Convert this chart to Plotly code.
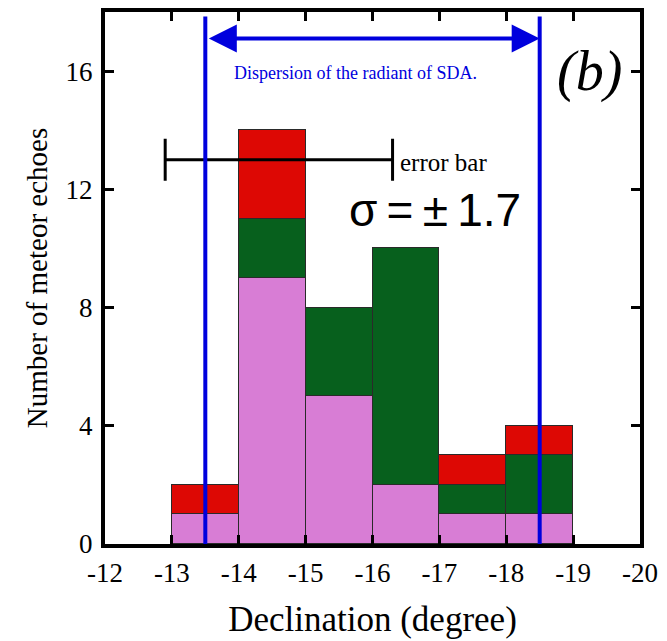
import plotly.graph_objects as go

# Declination bins (bin centres, degrees) and stacked counts per bin
bin_centers = [-13.5, -14.5, -15.5, -16.5, -17.5, -18.5]
pink_counts = [1, 9, 5, 2, 1, 1]
green_counts = [0, 2, 3, 8, 1, 2]
red_counts = [1, 3, 0, 0, 1, 1]

# Dispersion of the radiant and the error bar
dispersion_edges = [-13.5, -18.5]
sigma = 1.7
error_center = -14.6
error_level = 13

x_ticks = [-12, -13, -14, -15, -16, -17, -18, -19, -20]
y_ticks = [0, 4, 8, 12, 16]

SERIF = "Liberation Serif"
BLUE = "#0000DD"

fig = go.Figure()

for counts, color in [(pink_counts, "#D87DD5"), (green_counts, "#07601D"), (red_counts, "#DD0804")]:
    fig.add_trace(go.Bar(
        x=bin_centers, y=counts, width=1,
        marker=dict(color=color, line=dict(color="#2a2a2a", width=1)),
        showlegend=False, hoverinfo="skip",
    ))

# Horizontal error bar
fig.add_trace(go.Scatter(
    x=[error_center], y=[error_level], mode="markers",
    marker=dict(size=0.1, color="black"),
    error_x=dict(type="constant", value=sigma, color="black", thickness=3, width=21),
    showlegend=False, hoverinfo="skip",
))

# Vertical blue boundaries
for xe in dispersion_edges:
    fig.add_shape(type="line", x0=xe, x1=xe, y0=0, y1=17.85,
                  xref="x", yref="y", line=dict(color=BLUE, width=4), layer="above")

# Double-headed arrow between the boundaries
fig.add_annotation(
    x=dispersion_edges[1], y=17.1, ax=dispersion_edges[0] - 0.03, ay=17.1,
    xref="x", yref="y", axref="x", ayref="y",
    text="", showarrow=True, arrowhead=2, startarrowhead=2, arrowside="end+start",
    arrowsize=1.4, startarrowsize=1.4, arrowwidth=4, arrowcolor=BLUE,
)

fig.add_annotation(x=-15.75, y=15.95, xref="x", yref="y", text="Dispersion of the radiant of SDA.",
                   showarrow=False, font=dict(family=SERIF, size=18, color=BLUE))
fig.add_annotation(x=-16.38, y=12.9, xref="x", yref="y", text="error bar", xanchor="left",
                   showarrow=False, font=dict(family=SERIF, size=25, color="black"))
fig.add_annotation(x=-16.93, y=11.3, xref="x", yref="y", text="σ\u2009=\u2009±\u20091.7",
                   showarrow=False, font=dict(family="Liberation Sans", size=46, color="black"))
fig.add_annotation(x=-19.25, y=16.0, xref="x", yref="y", text="<i>(b)</i>",
                   showarrow=False, font=dict(family=SERIF, size=56, color="black"))

axis_common = dict(
    showline=True, linecolor="black", linewidth=4, mirror="ticks",
    ticks="inside", ticklen=9, tickwidth=3, tickcolor="black",
    showgrid=False, zeroline=False,
    tickfont=dict(family=SERIF, size=27, color="black"),
)

fig.update_layout(
    barmode="stack", bargap=0,
    width=667, height=641,
    margin=dict(l=105, r=27, t=8, b=97),
    plot_bgcolor="white", paper_bgcolor="white",
    xaxis=dict(range=[-12, -20], tickvals=x_ticks, ticktext=[str(v) for v in x_ticks],
               ticklabelstandoff=2,
               title=dict(text="Declination (degree)", font=dict(family=SERIF, size=35, color="black"), standoff=20),
               **axis_common),
    yaxis=dict(range=[0, 18], tickvals=y_ticks, ticklabelstandoff=3,
               title=dict(text="Number of meteor echoes", font=dict(family=SERIF, size=29, color="black"), standoff=10),
               **axis_common),
)

fig.write_html("out.html")
